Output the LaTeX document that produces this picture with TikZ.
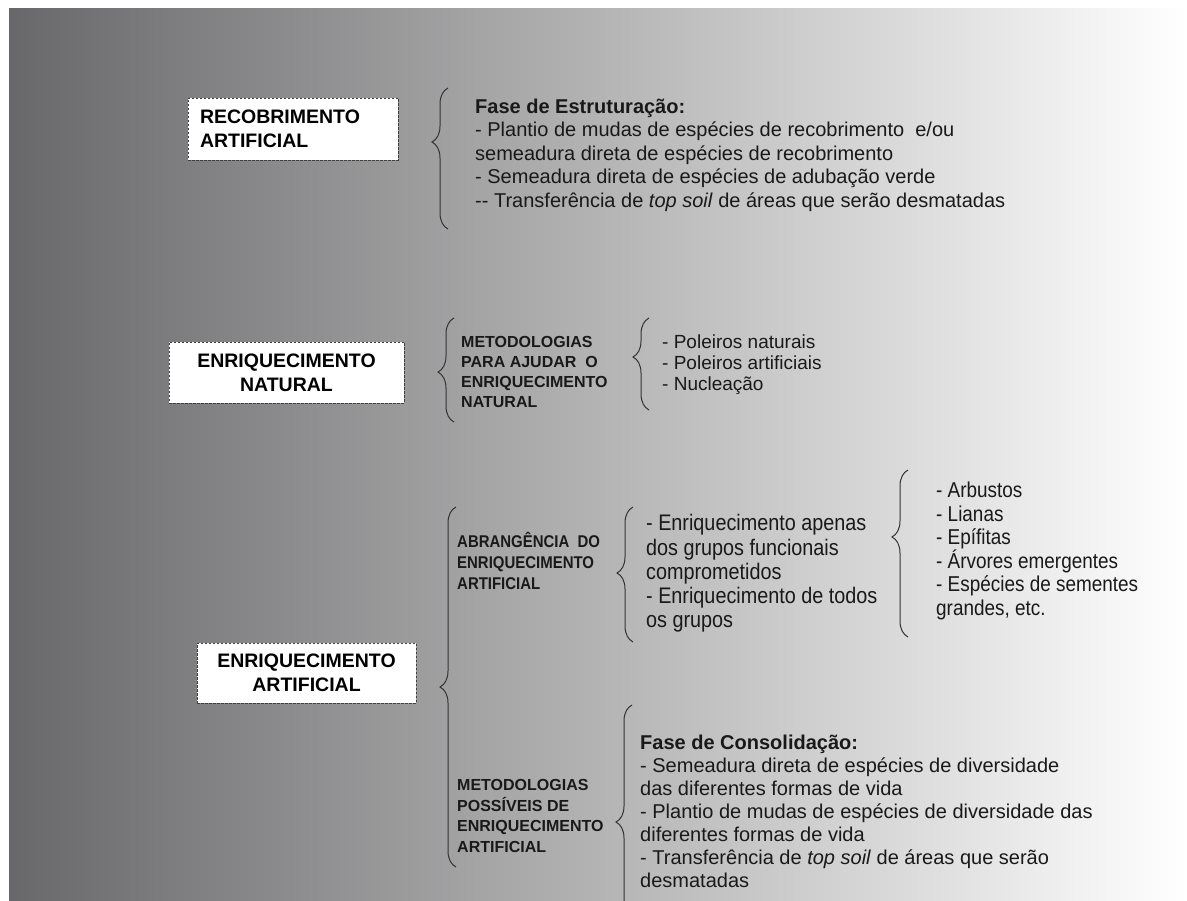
\documentclass[tikz,border=0pt]{standalone}
\usepackage{fontspec}
\setmainfont{Liberation Sans}
\newfontfamily\narrowfont[FakeStretch=0.88]{Liberation Sans}
\usetikzlibrary{decorations.pathreplacing,positioning}
\definecolor{fundoesq}{RGB}{104,104,106}
\definecolor{fundomeio}{RGB}{174,172,174}
\definecolor{tinta}{RGB}{25,25,25}

\begin{document}
\begin{tikzpicture}[x=1pt,y=-1pt,
		caixa/.style={draw=black!75,dash pattern=on 2.5pt off 1.5pt,line width=0.9pt,fill=white,inner sep=0pt,
			font=\bfseries\fontsize{19.5}{24}\selectfont,text=black},
		texto/.style={anchor=west,align=left,inner sep=0pt,text=tinta},
		chave/.style={decorate,decoration={brace,amplitude=16pt,aspect=#1},draw=black!80,line width=1pt}]
		
		\useasboundingbox (0,0) rectangle (1187,901);
		\clip (0,0) rectangle (1187,901);
		\shade[left color=fundoesq,middle color=fundomeio,right color=white] (9,9) rectangle (1187,901);
		
		% caixas
		\node[caixa,text width=186pt,inner xsep=12pt,minimum height=62pt,align=left] (rec) at (293,129) {RECOBRIMENTO\\ARTIFICIAL};
		\node[caixa,minimum width=235pt,minimum height=61pt,align=center] (natural) at (286.5,372.5) {ENRIQUECIMENTO\\NATURAL};
		\node[caixa,minimum width=219pt,minimum height=60pt,align=center] (artificial) at (306.5,673) {ENRIQUECIMENTO\\ARTIFICIAL};
		
		% textos
		\node[texto,font=\fontsize{20}{23.5}\selectfont] (estrut) at (475,155)
		{\textbf{Fase de Estruturação:}\\
			- Plantio de mudas de espécies de recobrimento\ \ e/ou\\
			semeadura direta de espécies de recobrimento\\
			- Semeadura direta de espécies de adubação verde\\
			-{}- Transferência de \textit{top soil} de áreas que serão desmatadas};
		\node[texto,font=\bfseries\fontsize{16}{20}\selectfont] (metnat) at (461,372)
		{METODOLOGIAS\\PARA AJUDAR\ \ O\\ENRIQUECIMENTO\\NATURAL};
		\node[texto,font=\fontsize{19}{21}\selectfont] (poleiros) at (662,365)
		{- Poleiros naturais\\- Poleiros artificiais\\- Nucleação};
		\node[texto,font=\narrowfont\bfseries\fontsize{17}{21}\selectfont] (abrang) at (457,561)
		{ABRANGÊNCIA\ \ DO\\ENRIQUECIMENTO\\ARTIFICIAL};
		\node[texto,font=\narrowfont\fontsize{22.5}{24.3}\selectfont] (grupos) at (646,573.5)
		{- Enriquecimento apenas\\dos grupos funcionais\\comprometidos\\- Enriquecimento de todos\\os grupos};
		\node[texto,font=\narrowfont\fontsize{21.5}{23.6}\selectfont] (formas) at (936,551)
		{- Arbustos\\- Lianas\\- Epífitas\\- Árvores emergentes\\- Espécies de sementes\\grandes, etc.};
		\node[texto,font=\bfseries\fontsize{16}{20.7}\selectfont] (metposs) at (457,816)
		{METODOLOGIAS\\POSSÍVEIS DE\\ENRIQUECIMENTO\\ARTIFICIAL};
		\node[texto,font=\fontsize{20}{23}\selectfont] (consol) at (640,811)
		{\textbf{Fase de Consolidação:}\\
			- Semeadura direta de espécies de diversidade\\
			das diferentes formas de vida\\
			- Plantio de mudas de espécies de diversidade das\\
			diferentes formas de vida\\
			- Transferência de \textit{top soil} de áreas que serão\\
			desmatadas};
		
		% chaves
		\draw[chave=0.617] (448,229) -- (448,88);
		\draw[chave=0.48] (454,422) -- (454,318);
		\draw[chave=0.576] (649,410) -- (649,318);
		\draw[chave=0.5] (456,867) -- (456,507);
		\draw[chave=0.511] (633,642) -- (633,507);
		\draw[chave=0.599] (908,637) -- (908,470);
		\draw[chave=0.502] (632,940) -- (632,705);
\end{tikzpicture}
\end{document}
